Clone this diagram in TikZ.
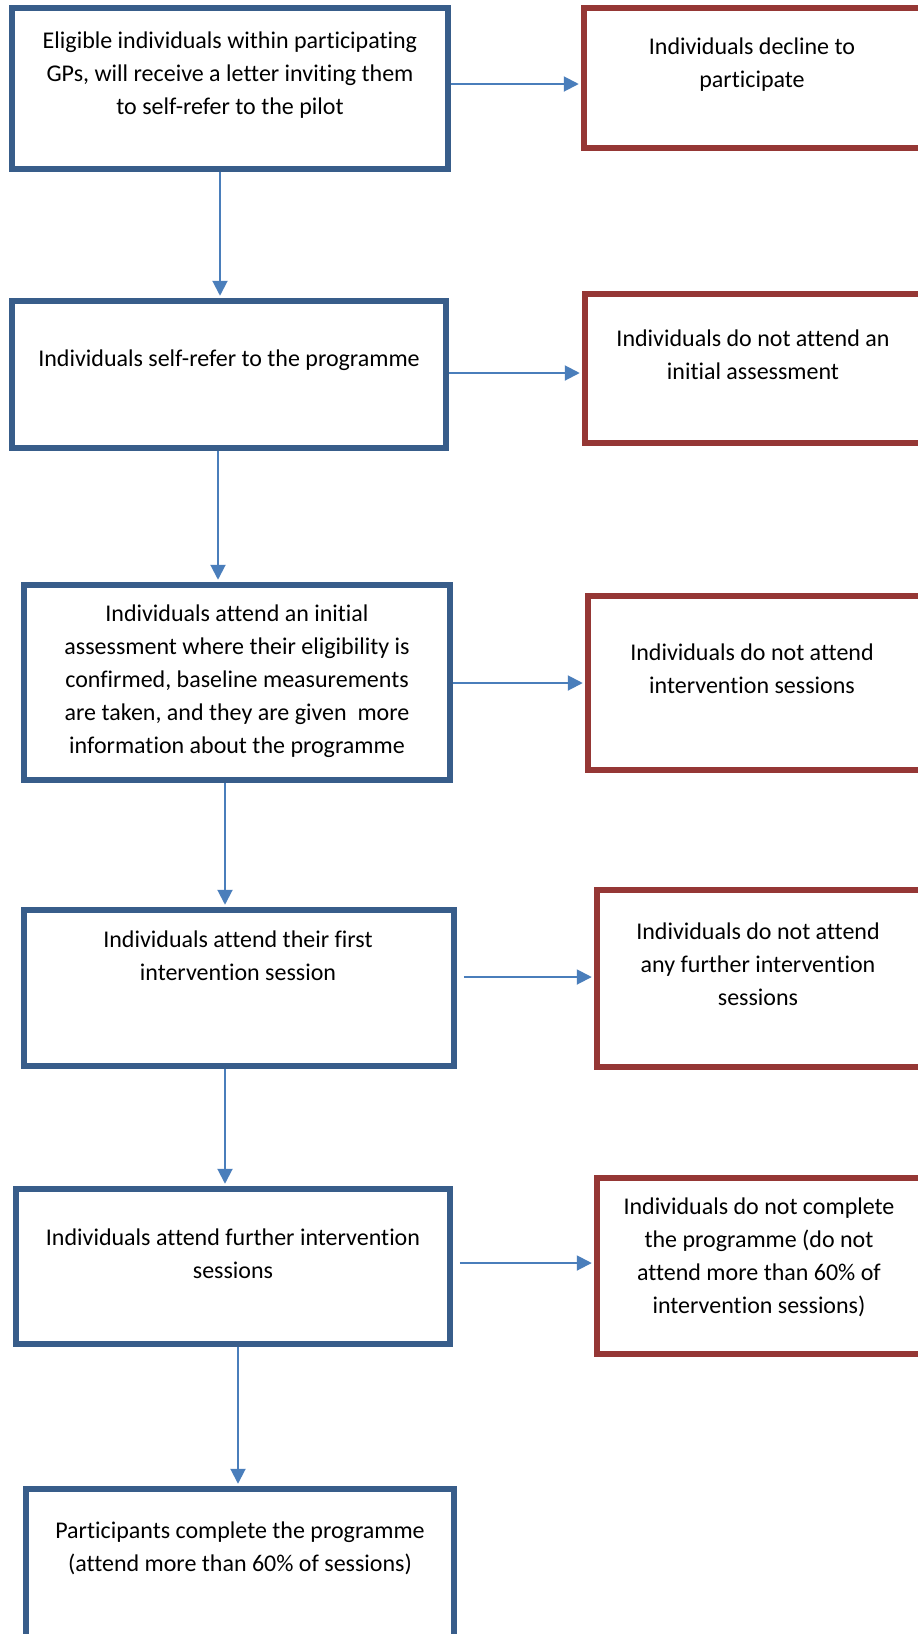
\documentclass[tikz,border=0pt]{standalone}
\usepackage{fontspec}
\setmainfont[Ligatures={NoCommon,NoContextual}]{Carlito}
\usetikzlibrary{arrows.meta}
\definecolor{boxblue}{HTML}{385D8A}
\definecolor{boxred}{HTML}{953735}
\definecolor{arrblue}{HTML}{4A7EBB}
\tikzset{
  x=1pt, y=-1pt,
  bluebox/.style={draw=boxblue, line width=5.5pt, fill=white, inner sep=0pt},
  redbox/.style={draw=boxred, line width=5.5pt, fill=white, inner sep=0pt},
  txt/.style={align=center, inner sep=0pt, font=\fontsize{24}{33}\selectfont, text=black},
  arr/.style={draw=arrblue, line width=2pt, -{Triangle[length=15pt,width=15pt]}},
}
\begin{document}
\begin{tikzpicture}
\useasboundingbox (0,0) rectangle (918,1634);
\clip (0,0) rectangle (918,1634);
\fill[white] (0,0) rectangle (918,1634);
% left column
\node[bluebox, minimum width=436, minimum height=161] (b1) at (230,88.5) {};
\node[bluebox, minimum width=434, minimum height=147] (b2) at (229,374.5) {};
\node[bluebox, minimum width=426, minimum height=195] (b3) at (237,682.5) {};
\node[bluebox, minimum width=430, minimum height=156] (b4) at (239,988) {};
\node[bluebox, minimum width=434, minimum height=155] (b5) at (233,1266.5) {};
\node[bluebox, minimum width=428, minimum height=172] (b6) at (240,1575) {};
% right column
\node[redbox, minimum width=342, minimum height=140] (r1) at (755,78) {};
\node[redbox, minimum width=340, minimum height=149] (r2) at (755,368.5) {};
\node[redbox, minimum width=337, minimum height=174] (r3) at (756.5,683) {};
\node[redbox, minimum width=328, minimum height=177] (r4) at (761,978.5) {};
\node[redbox, minimum width=328, minimum height=176] (r5) at (761,1266) {};
% texts
\node[txt] (t1) at (230,75.5) {Eligible individuals within participating\\GPs, will receive a letter inviting them\\to self-refer to the pilot};
\node[txt] (t2) at (229,360) {Individuals self-refer to the programme};
\node[txt] (t3) at (237,681) {Individuals attend an initial\\assessment where their eligibility is\\confirmed, baseline measurements\\are taken, and they are given\ \ more\\information about the programme};
\node[txt] (t4) at (238,955.5) {Individuals attend their first\\intervention session};
\node[txt] (t5) at (233,1253.5) {Individuals attend further intervention\\sessions};
\node[txt] (t6) at (240,1548.5) {Participants complete the programme\\(attend more than 60\% of sessions)};
\node[txt] (s1) at (752,64.5) {Individuals decline to\\participate};
\node[txt] (s2) at (753,354.5) {Individuals do not attend an\\initial assessment};
\node[txt] (s3) at (752,669) {Individuals do not attend\\intervention sessions};
\node[txt] (s4) at (758,964) {Individuals do not attend\\any further intervention\\sessions};
\node[txt] (s5) at (759,1257.5) {Individuals do not complete\\the programme (do not\\attend more than 60\% of\\intervention sessions)};
% horizontal connectors
\draw[arr, shorten >=2.5pt] (b1.east |- 0,84) -- (r1.west |- 0,84);
\draw[arr, shorten >=2.5pt] (b2.east |- 0,373) -- (r2.west |- 0,373);
\draw[arr, shorten >=2.5pt] (b3.east |- 0,683) -- (r3.west |- 0,683);
\draw[arr, shorten <=7pt, shorten >=2.5pt] (b4.east |- 0,977) -- (r4.west |- 0,977);
\draw[arr, shorten <=7pt, shorten >=2.5pt] (b5.east |- 0,1263) -- (r5.west |- 0,1263);
% vertical connectors
\draw[arr, shorten >=2.5pt] (b1.south -| 220,0) -- (b2.north -| 220,0);
\draw[arr, shorten >=2.5pt] (b2.south -| 218,0) -- (b3.north -| 218,0);
\draw[arr, shorten >=2.5pt] (b3.south -| 225,0) -- (b4.north -| 225,0);
\draw[arr, shorten >=2.5pt] (b4.south -| 225,0) -- (b5.north -| 225,0);
\draw[arr, shorten >=2.5pt] (b5.south -| 238,0) -- (b6.north -| 238,0);
\end{tikzpicture}
\end{document}
